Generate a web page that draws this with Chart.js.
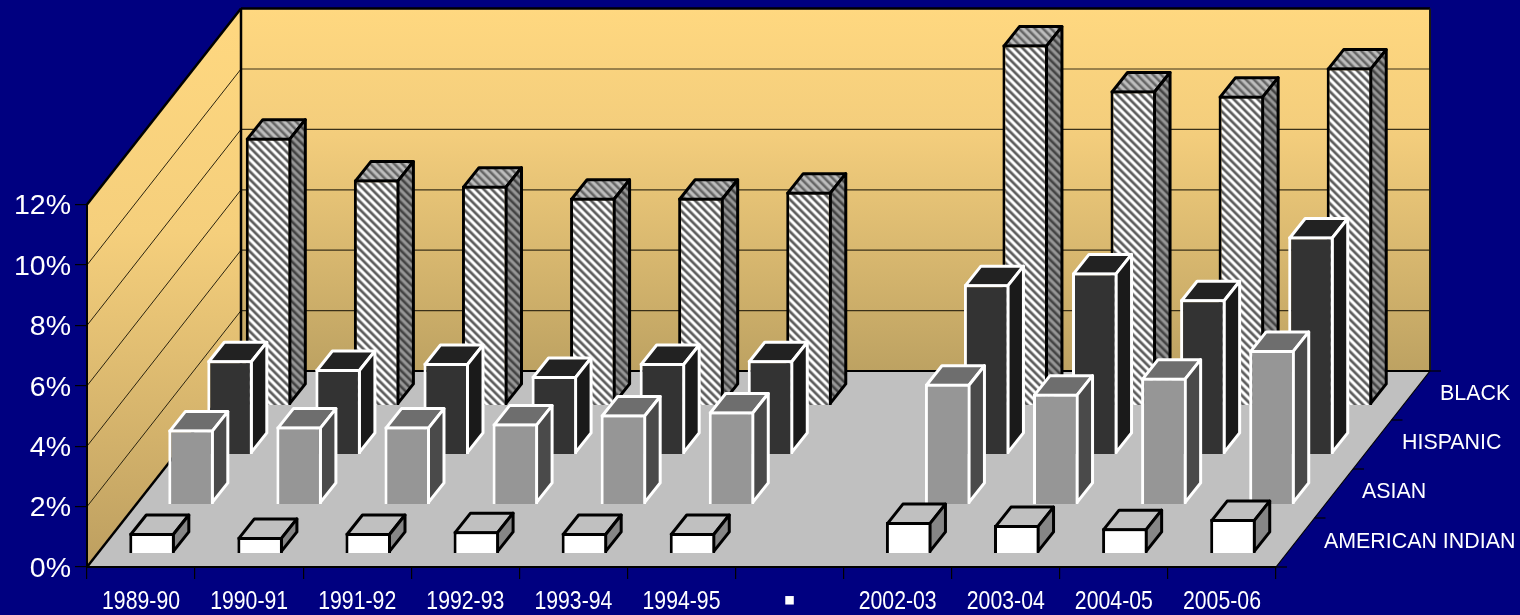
<!DOCTYPE html>
<html><head><meta charset="utf-8">
<style>html,body{margin:0;padding:0;background:#000080;overflow:hidden}canvas{display:block}</style>
<script src="https://cdn.jsdelivr.net/npm/chart.js@4"></script>
</head><body><canvas id="c" width="1520" height="615"></canvas>
<script>
const categories = ["1989-90","1990-91","1991-92","1992-93","1993-94","1994-95","▪","2002-03","2003-04","2004-05","2005-06"];
const americanIndian = [0.68,0.55,0.68,0.74,0.68,0.68,null,1.04,0.94,0.84,1.14];
const asian = [2.48,2.58,2.58,2.68,2.98,3.08,null,4.00,3.67,4.20,5.12];
const hispanic = [3.12,2.83,3.03,2.60,3.03,3.12,null,5.64,6.03,5.14,7.22];
const black = [8.87,7.48,7.28,6.88,6.88,7.08,null,11.95,10.43,10.26,11.19];
const yTicks = [0,2,4,6,8,10,12];
const seriesNames = ["AMERICAN INDIAN","ASIAN","HISPANIC","BLACK"];

const WALL_DX = 154, WALL_DY = -196;
const BAR_DX = 15.5, BAR_DY = -19.5;
const rowOffset = [[11,-13.5],[50,-62.5],[89,-112.5],[127.5,-161.5]];
const labelPos = [[1324,542],[1362,492],[1402,443],[1440,394]];
const FONT = '"Liberation Sans", Arial, sans-serif';

function hatch(ctx, light, dark, dot){
  const t = document.createElement('canvas'); t.width = 8; t.height = 8;
  const g = t.getContext('2d');
  for(let y=0;y<8;y++)for(let x=0;x<8;x++){
    const k=(x-y+16)%8;
    g.fillStyle = k<4 ? light : (k===5 ? dot : dark);
    g.fillRect(x,y,1,1);
  }
  return ctx.createPattern(t,'repeat');
}
const canvas = document.getElementById('c');
const ctx0 = canvas.getContext('2d');
const faceColors = [
  {top:'#c0c0c0',side:'#868686',line:'#000'},
  {top:'#6e6e6e',side:'#4a4a4a',line:'#fff'},
  {top:'#222222',side:'#1a1a1a',line:'#fff'},
  {top:hatch(ctx0,'#bdbdbd','#7a7a7a','#4a4a4a'),side:hatch(ctx0,'#969696','#555555','#2e2e2e'),line:'#000'}
];

function poly(ctx,pts,fill,stroke,w){
  ctx.beginPath();ctx.moveTo(pts[0][0],pts[0][1]);
  for(let i=1;i<pts.length;i++)ctx.lineTo(pts[i][0],pts[i][1]);
  ctx.closePath();
  if(fill){ctx.fillStyle=fill;ctx.fill();}
  if(stroke){ctx.strokeStyle=stroke;ctx.lineWidth=w;ctx.lineJoin='round';ctx.stroke();}
}
function seg(ctx,x1,y1,x2,y2,c,w){ctx.beginPath();ctx.moveTo(x1,y1);ctx.lineTo(x2,y2);ctx.strokeStyle=c;ctx.lineWidth=w;ctx.stroke();}

const walls = {
  id:'walls',
  beforeDraw(chart){
    const {ctx,chartArea:a,scales:{y}} = chart;
    const L=a.left,R=a.right,T=y.getPixelForValue(12),B=y.getPixelForValue(0);
    ctx.save();
    const gb=ctx.createLinearGradient(0,T+WALL_DY,0,B+WALL_DY);
    gb.addColorStop(0,'#ffd880');gb.addColorStop(0.35,'#f3cd7c');gb.addColorStop(1,'#bda262');
    const gl=ctx.createLinearGradient(0,T+WALL_DY,0,B);
    gl.addColorStop(0,'#ffd880');gl.addColorStop(0.4,'#f5cf7c');gl.addColorStop(1,'#bd9f60');
    poly(ctx,[[L,T],[L+WALL_DX,T+WALL_DY],[L+WALL_DX,B+WALL_DY],[L,B]],gl);
    poly(ctx,[[L+WALL_DX,T+WALL_DY],[R+WALL_DX,T+WALL_DY],[R+WALL_DX,B+WALL_DY],[L+WALL_DX,B+WALL_DY]],gb);
    poly(ctx,[[L,B],[L+WALL_DX,B+WALL_DY],[R+WALL_DX,B+WALL_DY],[R,B]],'#c0c0c0');
    yTicks.forEach(v=>{
      const p=y.getPixelForValue(v);
      if(v>0&&v<12){
        seg(ctx,L,p,L+WALL_DX,p+WALL_DY,'#2b2410',1);
        seg(ctx,L+WALL_DX,p+WALL_DY,R+WALL_DX,p+WALL_DY,'#3a3018',1.2);
      }
    });
    seg(ctx,L,T,L+WALL_DX,T+WALL_DY,'#000',2.5);
    seg(ctx,L+WALL_DX,T+WALL_DY,R+WALL_DX,T+WALL_DY,'#000',2.5);
    seg(ctx,L+WALL_DX,T+WALL_DY,L+WALL_DX,B+WALL_DY,'#000',2.5);
    seg(ctx,R+WALL_DX,T+WALL_DY,R+WALL_DX,B+WALL_DY,'#1c1a10',2);
    seg(ctx,L,B,L+WALL_DX,B+WALL_DY,'#000',2.5);
    seg(ctx,L+WALL_DX,B+WALL_DY,R+WALL_DX,B+WALL_DY,'#000',2);
    seg(ctx,R,B,R+WALL_DX,B+WALL_DY,'#000',1.2);
    for(let i=0;i<=4;i++){
      const tx=R+WALL_DX*i/4, ty=B+WALL_DY*i/4;
      seg(ctx,tx,ty,tx+11,ty,'#000',1.2);
    }
    ctx.fillStyle='#fff';ctx.font='21.4px '+FONT;ctx.textAlign='left';ctx.textBaseline='middle';
    seriesNames.forEach((n,i)=>ctx.fillText(n,labelPos[i][0],labelPos[i][1]));
    ctx.restore();
  },
  beforeDatasetDraw(chart,args){
    const {ctx} = chart; const i=args.index; const c=faceColors[i];
    ctx.save();
    ctx.translate(rowOffset[i][0],rowOffset[i][1]);
    args.meta.data.forEach((el,k)=>{
      if(chart.data.datasets[i].data[k]==null)return;
      const l=el.x-el.width/2+1.5,r=el.x+el.width/2-1.5,t=el.y+1.5,b=el.base-1.5;
      poly(ctx,[[l,t],[l+BAR_DX,t+BAR_DY],[r+BAR_DX,t+BAR_DY],[r,t]],c.top,c.line,3);
      poly(ctx,[[r,t],[r+BAR_DX,t+BAR_DY],[r+BAR_DX,b+BAR_DY],[r,b]],c.side,c.line,3);
    });
  },
  afterDatasetDraw(chart){chart.ctx.restore();},
  afterDraw(chart){
    const {ctx,scales:{x}} = chart;
    ctx.save();
    ctx.fillStyle='#fff';ctx.textAlign='center';ctx.textBaseline='middle';
    categories.forEach((label,i)=>{
      const px=x.getPixelForValue(i);
      ctx.save();
      if(label.length>1){
        ctx.font='25px '+FONT;
        ctx.translate(px,602);ctx.scale(0.85,1);
      }else{
        ctx.font='34px '+FONT;
        ctx.translate(px,602);
      }
      ctx.fillText(label,0,0);
      ctx.restore();
    });
    ctx.restore();
  }
};

const common = {barPercentage:45.5/108,categoryPercentage:1,borderWidth:3,clip:false};
new Chart(canvas,{
  type:'bar',
  data:{labels:categories,datasets:[
    {label:seriesNames[0],data:americanIndian,backgroundColor:'#ffffff',borderColor:'#000',...common},
    {label:seriesNames[1],data:asian,backgroundColor:'#969696',borderColor:'#fff',...common},
    {label:seriesNames[2],data:hispanic,backgroundColor:'#333333',borderColor:'#fff',...common},
    {label:seriesNames[3],data:black,backgroundColor:hatch(ctx0,'#ffffff','#707070','#444444'),borderColor:'#000',...common}
  ]},
  plugins:[walls],
  options:{
    responsive:false,animation:false,devicePixelRatio:1,
    layout:{padding:{top:204.6,right:244,left:0,bottom:0}},
    plugins:{legend:{display:false},tooltip:{enabled:false}},
    scales:{
      x:{afterFit(s){s.height=48;},
        grid:{drawOnChartArea:false,color:'#000',tickLength:12,lineWidth:1.2},
        border:{color:'#000',width:2},
        ticks:{display:false}},
      y:{min:0,max:12,afterFit(s){s.width=87;},
        afterBuildTicks(s){s.ticks=yTicks.map(v=>({value:v}));},
        grid:{drawOnChartArea:false,color:'#000',tickLength:12,lineWidth:1.2},
        border:{color:'#000',width:2},
        ticks:{color:'#fff',font:{family:FONT,size:28.5},padding:4,labelOffset:2,callback:v=>v+'%'}}
    },
    datasets:{bar:{grouped:false}}
  }
});
</script></body></html>
